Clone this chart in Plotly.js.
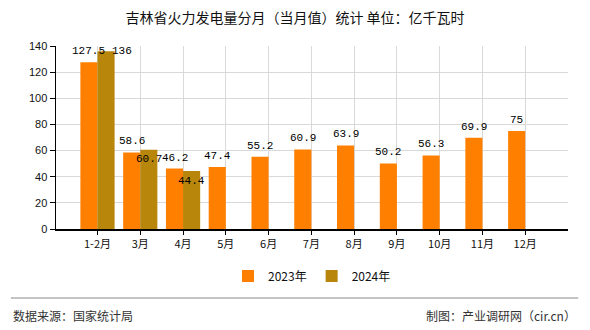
<!DOCTYPE html>
<html><head><meta charset="utf-8">
<script src="https://cdn.plot.ly/plotly-3.0.1.min.js"></script>
<style>html,body{margin:0;padding:0;background:#fff}#c{width:590px;height:330px}</style>
</head><body><div id="c"></div>
<script>
const categories = ['1-2月','3月','4月','5月','6月','7月','8月','9月','10月','11月','12月'];
const values2023 = [127.5, 58.6, 46.2, 47.4, 55.2, 60.9, 63.9, 50.2, 56.3, 69.9, 75];
const values2024 = [136, 60.7, 44.4];
const seriesNames = ['2023年', '2024年'];
const yTicks = [0, 20, 40, 60, 80, 100, 120, 140];

const c1 = '#FF8000', c2 = '#B8860B';
const labelFont = {family: 'Liberation Mono, DejaVu Sans Mono, monospace', size: 11, color: '#000'};

const traces = [
  {type: 'bar', name: seriesNames[0], x: categories, y: values2023, marker: {color: c1}, hoverinfo: 'none'},
  {type: 'bar', name: seriesNames[1], x: categories.slice(0, values2024.length), y: values2024, marker: {color: c2}, hoverinfo: 'none'}
];

// plot area: top 46px, bottom 229px => 183px tall
const PH = 183;
const py = px => (229 - px) / PH;

// label offsets (style only): [xshift, yshift] per point of 2024
const off2024 = [[16, 0], [0, -9], [0, -10]];
const annotations = [];
values2023.forEach((v, i) => annotations.push({
  x: categories[i], y: v, xref: 'x', yref: 'y', text: String(v), showarrow: false,
  xshift: -8.5, yshift: 11, font: labelFont
}));
values2024.forEach((v, i) => annotations.push({
  x: categories[i], y: v, xref: 'x', yref: 'y', text: String(v), showarrow: false,
  xshift: 8.5 + off2024[i][0], yshift: off2024[i][1], font: labelFont
}));
annotations.push({xref: 'paper', yref: 'paper', x: -0.088, xanchor: 'left', y: py(315), yanchor: 'middle',
  text: '数据来源：国家统计局', showarrow: false, font: {family: 'Noto Sans CJK SC', size: 12, color: '#333'}});
annotations.push({xref: 'paper', yref: 'paper', x: 1.02, xanchor: 'right', y: py(315), yanchor: 'middle',
  text: '制图：产业调研网（cir.cn）', showarrow: false, font: {family: 'Noto Sans CJK SC', size: 12, color: '#333'}});

const layout = {
  width: 590, height: 330,
  margin: {l: 56, r: 22, t: 46, b: 101},
  paper_bgcolor: '#fff', plot_bgcolor: '#fff',
  title: {text: '吉林省火力发电量分月（当月值）统计 单位：亿千瓦时', x: 0.5, xanchor: 'center', y: 0.945, yanchor: 'middle',
    font: {family: 'Noto Sans CJK SC', size: 14, color: '#111'}},
  barmode: 'group', bargap: 0.2, bargroupgap: 0,
  xaxis: {type: 'category', range: [-0.97, 11], showline: true, linecolor: '#000', linewidth: 1.5,
    showgrid: true, gridcolor: '#d9d9d9', ticks: 'outside', ticklen: 4, tickcolor: '#000',
    tickfont: {family: 'Noto Sans CJK SC', size: 11, color: '#111'}, fixedrange: true},
  yaxis: {range: [0, 140], tickvals: yTicks, showline: true, linecolor: '#000', linewidth: 1.5,
    showgrid: true, gridcolor: '#d9d9d9', ticks: 'outside', ticklen: 5, tickcolor: '#000', zeroline: false,
    tickfont: {family: 'Liberation Sans, Arial', size: 11, color: '#111'}, fixedrange: true},
  showlegend: true,
  legend: {orientation: 'h', x: 0.5, xanchor: 'center', y: 54/330, yref: 'container', yanchor: 'middle',
    font: {family: 'Noto Sans CJK SC', size: 12, color: '#111'}, itemwidth: 30, traceorder: 'normal'},
  annotations: annotations,
  shapes: [{type: 'line', xref: 'paper', yref: 'paper', x0: -0.088, x1: 1.02, y0: py(298), y1: py(298),
    line: {color: '#888', width: 1}}]
};
Plotly.newPlot('c', traces, layout, {displayModeBar: false, staticPlot: true});
</script></body></html>
